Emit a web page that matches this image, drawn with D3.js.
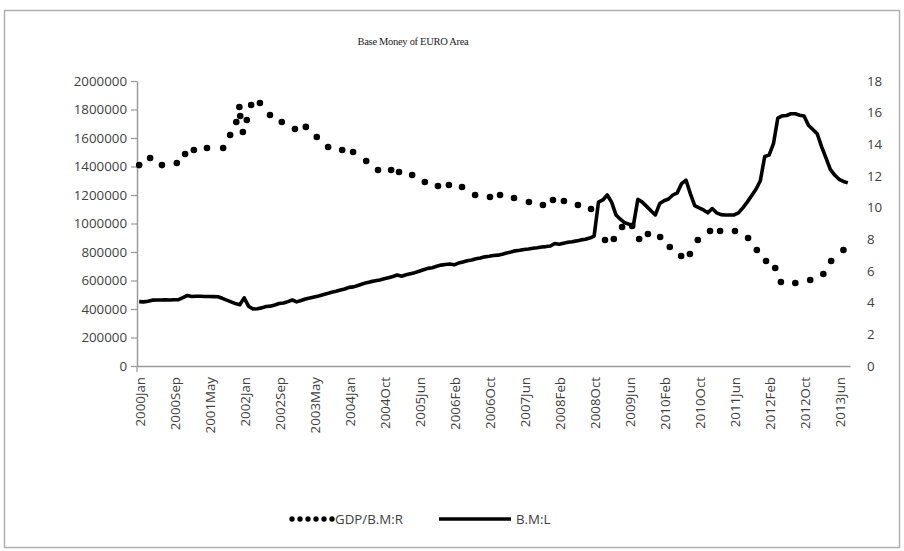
<!DOCTYPE html>
<html><head><meta charset="utf-8">
<script src="https://cdn.jsdelivr.net/npm/d3@7/dist/d3.min.js"></script>
<style>
html,body{margin:0;padding:0;background:#fff;}
svg{display:block;}
</style></head>
<body><svg id="chart" width="904" height="551"></svg>
<script>
// ---- data ----
const years = [2000,2001,2002,2003,2004,2005,2006,2007,2008,2009,2010,2011,2012,2013];
const monthNames = ["Jan","Feb","Mar","Apr","May","Jun","Jul","Aug","Sep","Oct","Nov","Dec"];
// category axis: monthly 2000Jan..2013Aug, one month (2004Jun) absent in the source table
const categories = [];
years.forEach(y => monthNames.forEach((m, k) => {
  if (y === 2013 && k > 7) return;
  if (y === 2004 && m === "Jun") return;
  categories.push(y + m);
}));
const tickLabels = ["2000Jan","2000Sep","2001May","2002Jan","2002Sep","2003May","2004Jan","2004Oct","2005Jun","2006Feb","2006Oct","2007Jun","2008Feb","2008Oct","2009Jun","2010Feb","2010Oct","2011Jun","2012Feb","2012Oct","2013Jun"];
const leftTicks = [0,200000,400000,600000,800000,1000000,1200000,1400000,1600000,1800000,2000000];
const rightTicks = [0,2,4,6,8,10,12,14,16,18];

// B.M:L  base money (left axis), one value per category, in thousands
const baseMoney = [
452,450,455,462,463,463,464,463,465,466,480,495,488,490,489,488,488,487,486,475,
462,450,438,430,478,420,400,402,408,418,420,428,438,442,452,463,450,460,470,478,
485,492,500,508,518,525,533,540,552,555,565,575,585,592,598,603,612,620,628,638,
630,640,648,655,665,675,685,690,700,708,712,716,710,722,730,738,744,752,758,766,
770,775,778,785,793,800,808,812,818,821,826,830,835,838,842,860,855,862,868,872,
878,885,890,898,912,1150,1165,1200,1150,1060,1030,1005,995,990,1170,1150,1120,1090,1060,1140,
1160,1172,1200,1215,1280,1305,1210,1125,1110,1095,1075,1105,1075,1062,1060,1060,1060,1075,1110,1150,
1195,1240,1300,1470,1480,1560,1740,1755,1758,1770,1770,1760,1755,1690,1660,1630,1540,1460,1380,1340,
1310,1295,1285];

// GDP/B.M:R  ratio (right axis): dotted trace, position in months from 2000Jan and value
const ratioPos = [0.0,2.5,5.2,8.6,10.5,12.5,15.5,19.2,20.8,22.2,22.9,23.1,23.7,24.6,25.6,27.6,29.9,32.6,35.6,38.1,
40.6,43.2,46.4,48.9,51.9,54.6,57.6,59.4,62.4,65.3,68.3,70.8,73.8,76.8,80.2,82.5,85.7,89.1,92.3,94.6,
97.1,100.3,103.3,106.5,108.5,110.4,112.7,114.3,116.3,119.1,121.3,123.9,125.9,127.7,130.5,132.8,136.2,139.2,141.2,143.3,
145.4,146.7,150.0,153.4,156.4,158.2,161.0];
const ratioVal = [12.69,13.14,12.69,12.82,13.39,13.64,13.77,13.77,14.59,15.41,16.36,15.79,14.78,15.54,16.48,16.61,15.85,15.41,14.97,15.10,
14.46,13.83,13.64,13.52,12.95,12.38,12.38,12.25,12.06,11.62,11.37,11.43,11.31,10.80,10.67,10.80,10.61,10.36,10.17,10.48,
10.42,10.17,9.92,7.96,8.02,8.78,8.84,8.02,8.34,8.15,7.52,6.95,7.07,7.96,8.53,8.53,8.53,8.08,7.33,6.63,
6.19,5.31,5.24,5.43,5.81,6.63,7.33];

const seriesNames = ["GDP/B.M:R","B.M:L"];
const titleText = "Base Money of EURO Area";

// ---- drawing ----
const svg = d3.select("#chart");
const axisFont = "'Open Sans', 'Liberation Sans', sans-serif";
const txtCol = "#404040";
const axisCol = "#9a9a9a";

svg.append("rect").attr("x",4.5).attr("y",10.5).attr("width",895).attr("height",537)
  .attr("fill","#fff").attr("stroke","#b0b0b0").attr("stroke-width",1.5);

const x = d3.scaleLinear().domain([-0.5, categories.length - 0.5]).range([137, 850]);
const yL = d3.scaleLinear().domain([0, 2000000]).range([366, 81]);
const yR = d3.scaleLinear().domain([0, 18]).range([366, 81]);

svg.append("text").attr("x", 413).attr("y", 45).attr("text-anchor","middle")
  .attr("font-family","'Liberation Serif','DejaVu Serif',serif").attr("font-size",10.5)
  .attr("fill","#222").attr("letter-spacing","-0.3").text(titleText);

// left axis
const gL = svg.append("g").attr("transform","translate(137,0)")
  .call(d3.axisLeft(yL).tickValues(leftTicks).tickFormat(d3.format("d")).tickSize(6).tickSizeOuter(0));
gL.select(".domain").attr("stroke",axisCol).attr("stroke-width",1.5);
gL.selectAll(".tick line").attr("stroke",axisCol).attr("stroke-width",1.2);
gL.selectAll(".tick text").attr("font-family",axisFont).attr("font-size",13.3).attr("fill",txtCol).attr("x",-10);

// right axis (labels only)
const gR = svg.append("g").attr("transform","translate(850,0)")
  .call(d3.axisRight(yR).tickValues(rightTicks).tickSize(0).tickSizeOuter(0));
gR.select(".domain").remove();
gR.selectAll(".tick text").attr("font-family",axisFont).attr("font-size",13.3).attr("fill",txtCol).attr("x",17);

// bottom axis
const tickIdx = tickLabels.map(t => categories.indexOf(t));
const gB = svg.append("g").attr("transform","translate(0,366)")
  .call(d3.axisBottom(x).tickValues(tickIdx).tickFormat(i => categories[i]).tickSize(0).tickSizeOuter(0));
gB.select(".domain").attr("stroke",axisCol).attr("stroke-width",1.5);
gB.selectAll(".tick text").attr("font-family",axisFont).attr("font-size",13.3).attr("fill",txtCol)
  .attr("text-anchor","end").attr("transform","rotate(-90)").attr("x",-11).attr("y",1).attr("dy","0.35em");
svg.append("line").attr("x1",137).attr("x2",137).attr("y1",366).attr("y2",372).attr("stroke",axisCol).attr("stroke-width",1.2);

// B.M:L line
const line = d3.line().x((d,i) => x(i)).y(d => yL(d * 1000));
svg.append("path").datum(baseMoney).attr("d", line).attr("fill","none")
  .attr("stroke","#000").attr("stroke-width",3.6).attr("stroke-linejoin","round");

// GDP/B.M:R dots
svg.append("g").selectAll("circle").data(ratioVal).join("circle")
  .attr("cx",(d,i) => x(ratioPos[i])).attr("cy", d => yR(d)).attr("r",3.3).attr("fill","#000");

// legend
const lg = svg.append("g");
lg.selectAll("circle").data(d3.range(6)).join("circle")
  .attr("cx", i => 292 + i * 8).attr("cy", 519).attr("r", 2.7).attr("fill", "#000");
lg.append("text").attr("x",335).attr("y",524).attr("font-family",axisFont).attr("font-size",13.3)
  .attr("fill",txtCol).text(seriesNames[0]);
lg.append("line").attr("x1",439).attr("x2",511).attr("y1",519).attr("y2",519).attr("stroke","#000").attr("stroke-width",3.6);
lg.append("text").attr("x",516).attr("y",524).attr("font-family",axisFont).attr("font-size",13.3)
  .attr("fill",txtCol).text(seriesNames[1]);
</script></body></html>
